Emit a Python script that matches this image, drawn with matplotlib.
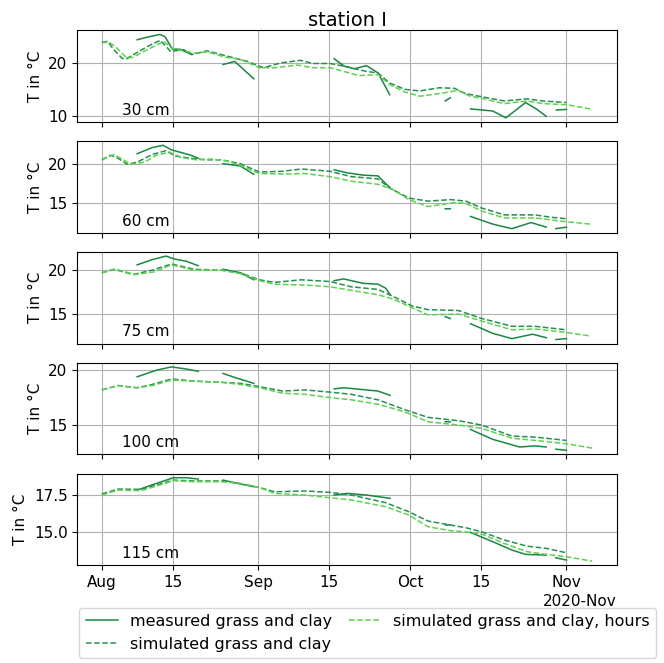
import numpy as np
import matplotlib
matplotlib.use('Agg')
import matplotlib.pyplot as plt
import matplotlib.dates as mdates
from matplotlib.ticker import MaxNLocator

nan = np.nan
start = np.datetime64('2020-08-01T00:00')

depths = ['30 cm', '60 cm', '75 cm', '100 cm', '115 cm']

# days since 2020-08-01, values in °C
# --- 30 cm
meas30_d = [7, 9, 11.5, 12.5, 14, 15.5, 17.8, 21, 24, 26.3, 30.1, 38, 46, 48, 50, 52.4, 54.7, 57, 62, 68, 69, 71, 73, 77.4, 80, 83.9, 86, 88, 89, 90, 92]
meas30 = [24.4, 24.9, 25.4, 25.0, 22.6, 22.6, 21.6, nan, 19.7, 20.3, 17.0, nan, 20.8, 19.4, 18.9, 19.5, 18.1, 14.0, nan, 12.8, 13.4, nan, 11.3, 10.9, 9.6, 12.5, 11.3, 9.9, nan, 11.1, 11.2]
sim30_d = [0, 1.1, 2.4, 4.0, 4.7, 6.3, 9, 11.6, 13.6, 16.2, 17.9, 20.8, 24.8, 28.8, 32, 35.4, 39.3, 41.8, 45.2, 47.9, 52.4, 54.7, 57, 60, 63, 66.8, 69.8, 72, 75.2, 79.7, 84.2, 87.3, 92]
sim30 = [23.9, 24.1, 22.5, 20.9, 20.7, 21.6, 23.1, 24.3, 22.2, 22.5, 21.6, 22.3, 21.3, 20.3, 19.1, 20.0, 20.5, 19.9, 19.9, 19.4, 18.4, 18.1, 16.2, 15.0, 14.7, 15.3, 15.2, 14.2, 13.6, 12.8, 13.2, 12.8, 12.5]
hrs30_d = [0, 1.4, 3.0, 5.0, 6.3, 7.7, 10, 12.3, 13.8, 16, 18.3, 21, 24.4, 27.4, 31.2, 34.2, 38.8, 41.8, 45.2, 47.9, 50.9, 54.7, 57, 60, 63, 66.8, 70.6, 72.9, 75.2, 79.7, 84.2, 87.3, 92, 96.7]
hrs30 = [23.8, 24.0, 22.8, 20.9, 21.1, 21.9, 23.0, 24.1, 22.8, 22.3, 21.9, 22.1, 21.1, 20.7, 19.1, 19.1, 19.6, 19.1, 19.1, 18.4, 17.6, 17.8, 15.9, 14.5, 13.7, 14.2, 14.8, 13.7, 13.3, 12.3, 12.8, 12.3, 12.1, 11.3]

# --- 60 cm
meas60_d = [7, 10, 12.1, 13.8, 16, 17.6, 19.1, 21, 24, 27.4, 30.1, 38, 46, 48.6, 51.7, 54.7, 56.2, 57, 62, 68, 69, 71, 73, 77.4, 81.2, 85, 88, 89, 89.9, 92]
meas60 = [21.4, 22.2, 22.5, 21.9, 21.5, 21.2, 20.8, nan, 20.1, 19.8, 18.7, nan, 19.3, 18.9, 18.6, 18.5, 17.5, 17.0, nan, 14.2, 14.2, nan, 13.2, 12.2, 11.6, 12.4, 11.8, nan, 11.6, 11.8]
sim60_d = [0, 1.7, 3.2, 5.1, 7, 10, 12.7, 14.5, 17.6, 20.6, 23.6, 27.4, 31.2, 35.8, 39.5, 45.2, 49.4, 54.7, 57, 60.8, 64.6, 69.1, 72.1, 75.2, 79.7, 85.8, 88.8, 92]
sim60 = [20.6, 21.2, 20.8, 20.0, 20.3, 21.3, 21.8, 21.1, 20.8, 20.6, 20.6, 20.1, 19.0, 19.1, 19.4, 19.1, 18.4, 18.1, 16.9, 15.6, 15.2, 15.4, 15.2, 14.3, 13.4, 13.4, 13.1, 12.9]
hrs60_d = [0, 2.4, 4.3, 5.8, 8.5, 10.8, 13.4, 15.7, 18.7, 21.7, 24.4, 27.4, 31.2, 35.8, 40.3, 45.2, 49.4, 54.7, 57.7, 60.8, 64.6, 69.8, 72.1, 75.2, 79.7, 85.8, 92, 96.7]
hrs60 = [20.6, 21.3, 20.6, 20.0, 20.3, 21.2, 21.6, 20.9, 20.6, 20.7, 20.5, 19.9, 18.8, 18.75, 18.8, 18.4, 17.8, 17.4, 16.7, 15.4, 14.5, 15.0, 14.9, 13.9, 13.0, 13.0, 12.5, 12.2]

# --- 75 cm
meas75_d = [7, 10, 12.7, 14.5, 16.8, 19.1, 21, 24, 27.4, 30.1, 38, 46, 47.9, 51.7, 54.7, 56.2, 57.1, 62, 68, 69, 71, 73, 77.4, 81.2, 85.3, 88, 89, 89.9, 92]
meas75 = [20.6, 21.2, 21.6, 21.25, 21.0, 20.5, nan, 20.1, 19.7, 18.9, nan, 18.8, 19.0, 18.5, 18.4, 17.95, 17.2, nan, 14.7, 14.5, nan, 13.9, 12.8, 12.2, 12.7, 12.3, nan, 12.1, 12.2]
sim75_d = [0, 2.4, 6.2, 10, 13.8, 18.3, 23.6, 27.4, 31.2, 34.2, 39.5, 45.2, 49.4, 54.7, 57.7, 61.5, 64.6, 70.6, 75.2, 81.2, 85.8, 92]
sim75 = [19.7, 20.1, 19.5, 20.0, 20.7, 20.1, 20.0, 19.7, 18.9, 18.6, 18.9, 18.7, 18.1, 17.8, 17.0, 15.9, 15.5, 15.4, 14.5, 13.6, 13.6, 13.2]
hrs75_d = [0, 2.8, 6.6, 10.4, 13.8, 18.3, 23.6, 27.4, 31.2, 34.2, 40.3, 45.2, 49.4, 54.7, 57.7, 61.5, 64.6, 70.6, 75.2, 81.2, 85.8, 92, 96.7]
hrs75 = [19.7, 20.1, 19.5, 19.8, 20.6, 20.0, 20.0, 19.6, 18.8, 18.4, 18.3, 18.1, 17.7, 17.2, 16.7, 15.7, 14.9, 15.0, 14.2, 13.2, 13.3, 12.9, 12.5]

# --- 100 cm
meas100_d = [7, 10.8, 13.8, 16.8, 19.1, 21, 24, 26.6, 30.1, 38, 46, 47.9, 52.4, 54.7, 57.1, 62, 68, 69, 71, 73, 77.4, 82.7, 85.8, 88, 89, 89.9, 92]
meas100 = [19.4, 20.0, 20.3, 20.1, 19.9, nan, 19.7, 19.3, 18.8, nan, 18.3, 18.4, 18.2, 18.1, 17.7, nan, 15.3, 15.3, nan, 14.6, 13.7, 13.0, 13.1, 13.0, nan, 12.8, 12.7]
sim100_d = [0, 3.2, 7, 10, 13.8, 18.3, 23.6, 27.4, 31.2, 35.8, 40.3, 45.2, 49.4, 54.7, 60, 64.6, 70.6, 75.2, 81.2, 85.8, 92]
sim100 = [18.2, 18.6, 18.4, 18.7, 19.2, 19.0, 18.9, 18.8, 18.5, 18.1, 18.2, 18.0, 17.8, 17.3, 16.4, 15.7, 15.4, 15.0, 14.0, 13.9, 13.6]
hrs100_d = [0, 3.2, 7, 10, 13.8, 18.3, 23.6, 27.4, 31.2, 35.8, 40.3, 45.2, 49.4, 54.7, 60, 64.6, 70.6, 75.2, 81.2, 85.8, 92, 97.1]
hrs100 = [18.2, 18.6, 18.4, 18.6, 19.1, 19.0, 18.9, 18.7, 18.4, 17.9, 17.8, 17.5, 17.3, 16.9, 16.2, 15.3, 15.0, 14.7, 13.8, 13.6, 13.3, 12.9]

# --- 115 cm
meas115_d = [7, 10.8, 14.2, 16.8, 19.1, 21, 24, 27.4, 30.1, 38, 46, 48.6, 52.4, 57.1, 62, 68, 69, 71, 73, 77.4, 81.2, 83.9, 88, 89, 89.9, 92]
meas115 = [17.83, 18.28, 18.66, 18.66, 18.57, nan, 18.5, 18.24, 18.06, nan, 17.5, 17.61, 17.5, 17.28, nan, 15.5, 15.5, nan, 15.0, 14.38, 13.82, 13.53, 13.48, nan, 13.3, 13.15]
sim115_d = [0, 3.2, 7.7, 10.8, 14.2, 18.3, 23.6, 27.4, 31.2, 34.2, 40.3, 45.2, 49.4, 56.2, 60.8, 64.6, 69.1, 72.1, 75.2, 79.7, 84.2, 88, 92]
sim115 = [17.57, 17.9, 17.88, 18.17, 18.5, 18.44, 18.44, 18.28, 18.0, 17.72, 17.77, 17.68, 17.5, 16.99, 16.38, 15.76, 15.49, 15.31, 15.04, 14.49, 14.08, 13.93, 13.64]
hrs115_d = [0, 3.2, 7.7, 10.8, 14.2, 18.3, 23.6, 27.4, 31.2, 34.2, 40.3, 45.2, 49.4, 56.2, 60.8, 64.6, 69.1, 72.1, 75.2, 79.7, 84.2, 88, 92, 97.1]
hrs115 = [17.5, 17.83, 17.79, 18.1, 18.46, 18.39, 18.39, 18.28, 18.0, 17.61, 17.5, 17.32, 17.17, 16.72, 16.16, 15.38, 15.11, 15.04, 14.89, 14.26, 13.71, 13.53, 13.37, 13.08]

panels = [
    (meas30_d, meas30, sim30_d, sim30, hrs30_d, hrs30),
    (meas60_d, meas60, sim60_d, sim60, hrs60_d, hrs60),
    (meas75_d, meas75, sim75_d, sim75, hrs75_d, hrs75),
    (meas100_d, meas100, sim100_d, sim100, hrs100_d, hrs100),
    (meas115_d, meas115, sim115_d, sim115, hrs115_d, hrs115),
]

c_meas = '#1a8743'
c_sim = '#23914f'
c_hrs = '#5fd04f'


def to_dates(days):
    return start + (np.asarray(days) * 1440).astype(int).astype('timedelta64[m]')


plt.rcParams['font.size'] = 11
fig, axes = plt.subplots(5, 1, sharex=True, figsize=(6.64, 6.63), dpi=100)
fig.subplots_adjust(left=0.1164, right=0.9288, top=0.9543, bottom=0.1474, hspace=0.208)

for ax, depth, (md, mv, sd, sv, hd, hv) in zip(axes, depths, panels):
    l1, = ax.plot(to_dates(md), mv, '-', color=c_meas, lw=1.1, label='measured grass and clay')
    l2, = ax.plot(to_dates(sd), sv, '--', color=c_sim, lw=1.1, label='simulated grass and clay')
    l3, = ax.plot(to_dates(hd), hv, '--', color=c_hrs, lw=1.1, label='simulated grass and clay, hours')
    # only two y ticks per panel
    ax.yaxis.set_major_locator(MaxNLocator(nbins=2, steps=[1, 2, 2.5, 5, 10]))
    ax.grid(True)
    ax.set_ylabel('T in °C')
    ax.text(0.083, 0.08, depth, transform=ax.transAxes)

axes[0].set_title('station I', fontsize=14, pad=3)
loc = mdates.DayLocator(bymonthday=[1, 15])
axes[-1].xaxis.set_major_locator(loc)
axes[-1].xaxis.set_major_formatter(mdates.ConciseDateFormatter(loc))

fig.legend([l1, l2, l3], [l1.get_label(), l2.get_label(), l3.get_label()],
           loc='upper left', bbox_to_anchor=(79.3 / 664, 1 - 607.7 / 663),
           ncol=2, borderaxespad=0, fontsize=11.5, columnspacing=1.0)

fig.savefig('out.png', dpi=100)
